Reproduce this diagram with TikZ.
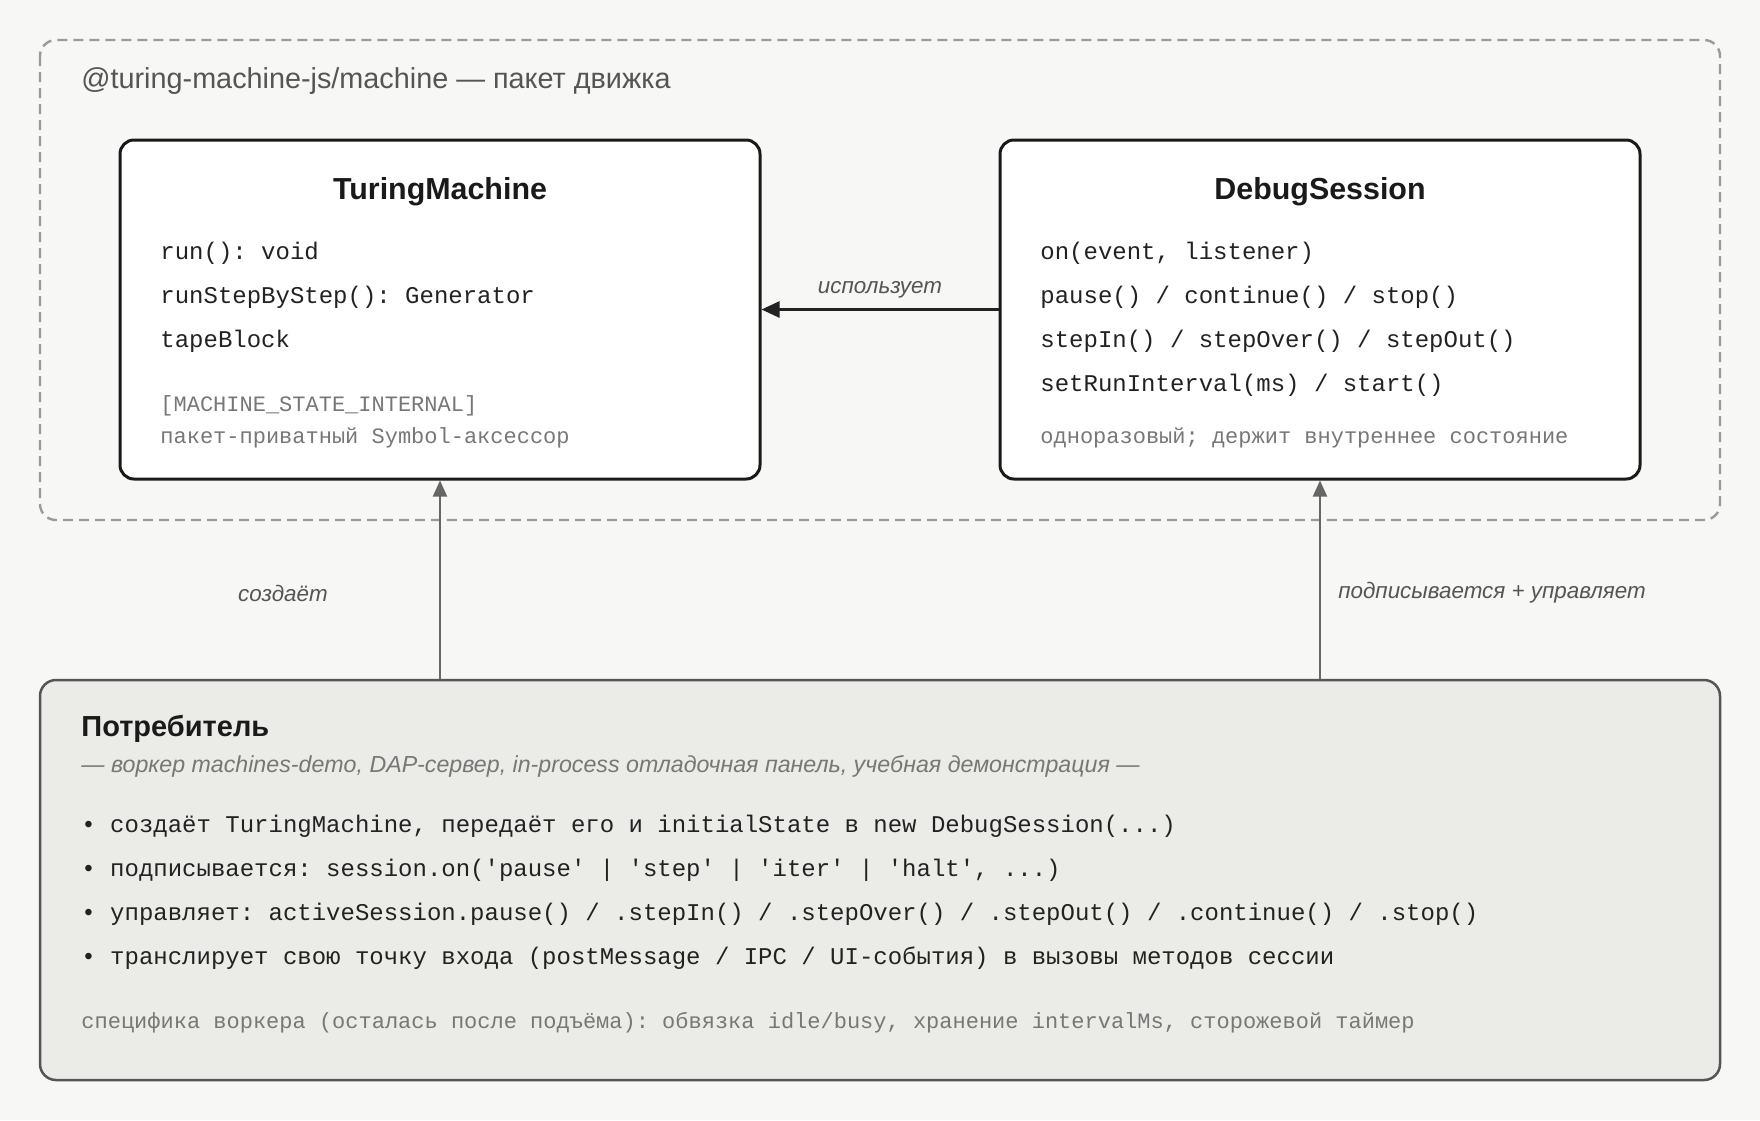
\documentclass[tikz,border=0pt]{standalone}
\usepackage{fontspec}
\setmainfont{Liberation Sans}
\setmonofont{Liberation Mono}
\usetikzlibrary{arrows.meta,positioning}
\definecolor{paper}{HTML}{F7F7F5}
\definecolor{boxline}{HTML}{1A1A1A}
\definecolor{ink}{HTML}{222222}
\definecolor{noteink}{HTML}{777777}
\definecolor{labelink}{HTML}{555555}
\definecolor{frameline}{HTML}{9A9A9A}
\definecolor{arrowgray}{HTML}{666666}
\definecolor{consfill}{HTML}{EBEBE8}
\definecolor{consline}{HTML}{555555}
\tikzset{
  classbox/.style={draw=boxline, fill=white, line width=1.5pt, rounded corners=7pt,
    minimum width=320pt, minimum height=169.5pt},
  classtitle/.style={font=\bfseries\fontsize{15.2}{18}\selectfont, text=boxline},
  member/.style={anchor=west, inner sep=0pt, font=\ttfamily\fontsize{12}{14}\selectfont, text=ink},
  note/.style={anchor=west, inner sep=0pt, font=\ttfamily\fontsize{11}{13}\selectfont, text=noteink},
  edgelabel/.style={font=\itshape\fontsize{11.2}{14}\selectfont, text=labelink},
  uses/.style={-{Triangle[length=9pt,width=8pt]}, line width=1.25pt, draw=ink},
  calls/.style={-{Triangle[length=8pt,width=7pt]}, line width=1pt, draw=arrowgray, arrowgray},
}
\begin{document}
\begin{tikzpicture}[x=0.5pt, y=-0.5pt]
	\fill[paper] (0,0) rectangle (1760,1120);
	\useasboundingbox (0,0) rectangle (1760,1120);
	% package frame
	\draw[frameline, line width=1.2pt, dash pattern=on 5pt off 3pt, rounded corners=8pt]
		(40,40) rectangle (1720,520);
	\node[anchor=west, inner sep=0pt, text=labelink, font=\fontsize{14.4}{17}\selectfont] (pkg) at (81,81.5)
		{@turing-machine-js/machine — пакет движка};
	% TuringMachine
	\node[classbox] (tm) at (440,309.5) {};
	\node[classtitle] (tmtitle) at (440,191.5) {TuringMachine};
	\node[member] (tmrun) at (160,253.5) {run(): void};
	\node[member] (tmstep) at (160,297.5) {runStepByStep(): Generator};
	\node[member] (tmtape) at (160,341.5) {tapeBlock};
	\node[note] (tmsym) at (160,405.5) {[MACHINE\_STATE\_INTERNAL]};
	\node[note] (tmsymnote) at (160,438) {пакет-приватный Symbol-аксессор};
	% DebugSession
	\node[classbox] (ds) at (1320,309.5) {};
	\node[classtitle] (dstitle) at (1320,191.5) {DebugSession};
	\node[member] (dson) at (1040,253.5) {on(event, listener)};
	\node[member] (dspause) at (1040,297.5) {pause() / continue() / stop()};
	\node[member] (dsstep) at (1040,341.5) {stepIn() / stepOver() / stepOut()};
	\node[member] (dsrun) at (1040,385.5) {setRunInterval(ms) / start()};
	\node[note] (dsnote) at (1040,438) {одноразовый; держит внутреннее состояние};
	\draw[uses] (ds.west) -- (tm.east) node[pos=0.5, above=1.5pt, edgelabel] {использует};
	% consumer
	\node[draw=consline, fill=consfill, line width=1.25pt, rounded corners=8pt,
		minimum width=840pt, minimum height=200pt] (cons) at (880,880) {};
	\node[anchor=west, inner sep=0pt, text=boxline, font=\bfseries\fontsize{14.5}{17}\selectfont] (constitle)
		at (81,729) {Потребитель};
	\node[anchor=west, inner sep=0pt, text=noteink, font=\itshape\fontsize{11.6}{14}\selectfont] (conssub)
		at (81,766.5) {— воркер machines-demo, DAP-сервер, in-process отладочная панель, учебная демонстрация —};
	\node[member] (consa) at (81,826.5) {• создаёт TuringMachine, передаёт его и initialState в new DebugSession(...)};
	\node[member] (consb) at (81,870) {• подписывается: session.on('pause' | 'step' | 'iter' | 'halt', ...)};
	\node[member] (consc) at (81,914) {• управляет: activeSession.pause() / .stepIn() / .stepOver() / .stepOut() / .continue() / .stop()};
	\node[member] (consd) at (81,958.5) {• транслирует свою точку входа (postMessage / IPC / UI-события) в вызовы методов сессии};
	\node[note] (consnote) at (81,1022.5)
		{специфика воркера (осталась после подъёма): обвязка idle/busy, хранение intervalMs, сторожевой таймер};
	% consumer -> engine
	\draw[calls] (tm.south |- cons.north) -- (tm.south);
	\draw[calls] (ds.south |- cons.north) -- (ds.south);
	\node[edgelabel] (creates) at (283,593) {создаёт};
	\node[edgelabel] (controls) at (1492,593) {подписывается + управляет};
\end{tikzpicture}
\end{document}
